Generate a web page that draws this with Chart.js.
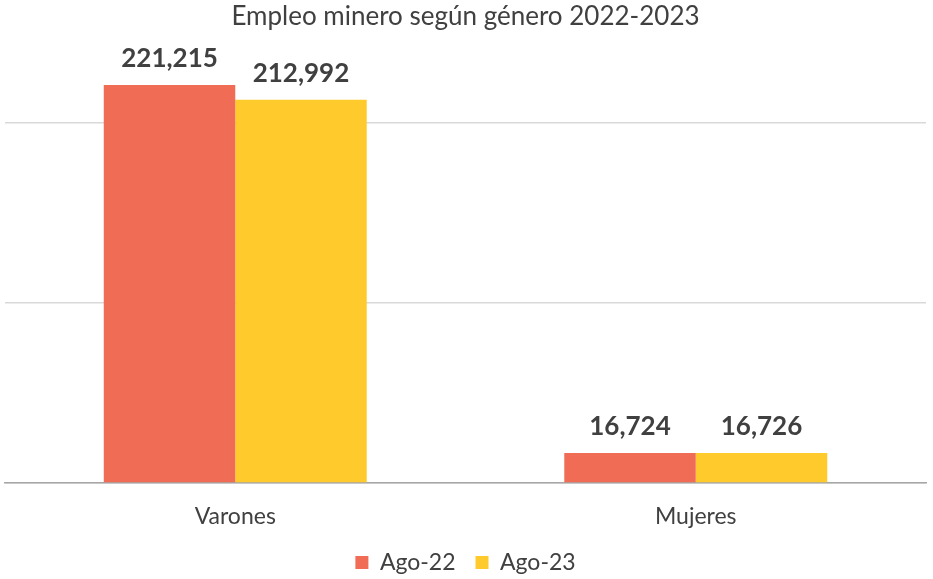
<!DOCTYPE html>
<html>
<head>
<meta charset="utf-8">
<script src="https://cdn.jsdelivr.net/npm/chart.js@4"></script>
<style>
  html, body { margin: 0; padding: 0; background: #ffffff; }
  #wrap { width: 933px; height: 579px; }
</style>
</head>
<body>
<div id="wrap"><canvas id="c" width="933" height="579"></canvas></div>
<script>
const categories = ["Varones", "Mujeres"];
const seriesNames = ["Ago-22", "Ago-23"];
const ago22 = [221215, 16724];
const ago23 = [212992, 16726];
const yTicks = [0, 100000, 200000];
const yMax = 250000;

const FONT = "Lato, 'Open Sans', sans-serif";
const TEXT = "#404040";

const valueLabels = {
  id: "valueLabels",
  afterDatasetsDraw(chart) {
    const ctx = chart.ctx;
    ctx.save();
    ctx.font = "bold 26px " + FONT;
    ctx.fillStyle = TEXT;
    ctx.textAlign = "center";
    ctx.textBaseline = "alphabetic";
    chart.data.datasets.forEach((ds, i) => {
      const meta = chart.getDatasetMeta(i);
      meta.data.forEach((bar, j) => {
        ctx.fillText(ds.data[j].toLocaleString("en-US"), bar.x, bar.y - 18);
      });
    });
    ctx.restore();
  }
};

new Chart(document.getElementById("c"), {
  type: "bar",
  data: {
    labels: categories,
    datasets: [
      { label: seriesNames[0], data: ago22, backgroundColor: "#F06C55" },
      { label: seriesNames[1], data: ago23, backgroundColor: "#FFCA2B" }
    ]
  },
  options: {
    responsive: false,
    animation: false,
    devicePixelRatio: 1,
    layout: { padding: { left: 5, right: 7, top: 0, bottom: 0 } },
    datasets: { bar: { categoryPercentage: 0.571, barPercentage: 1.0 } },
    plugins: {
      title: {
        display: true,
        text: "Empleo minero según género 2022-2023",
        color: TEXT,
        font: { family: FONT, size: 26, weight: "normal" },
        padding: { top: 1, bottom: 1 }
      },
      legend: {
        position: "bottom",
        maxHeight: 48,
        labels: {
          color: TEXT,
          font: { family: FONT, size: 23 },
          boxWidth: 13,
          boxHeight: 13,
          padding: 20
        }
      },
      tooltip: { enabled: false }
    },
    scales: {
      x: {
        grid: { display: false },
        border: { color: "#A6A6A6", width: 1.5 },
        ticks: { color: TEXT, font: { family: FONT, size: 23 }, padding: 12 },
        afterFit: (scale) => { scale.height = 48; }
      },
      y: {
        min: 0,
        max: yMax,
        afterBuildTicks: (axis) => { axis.ticks = yTicks.map(v => ({ value: v })); },
        ticks: { display: false },
        border: { display: false },
        grid: { color: "#D9D9D9", lineWidth: 1.5, drawTicks: false }
      }
    }
  },
  plugins: [valueLabels]
});
</script>
</body>
</html>
